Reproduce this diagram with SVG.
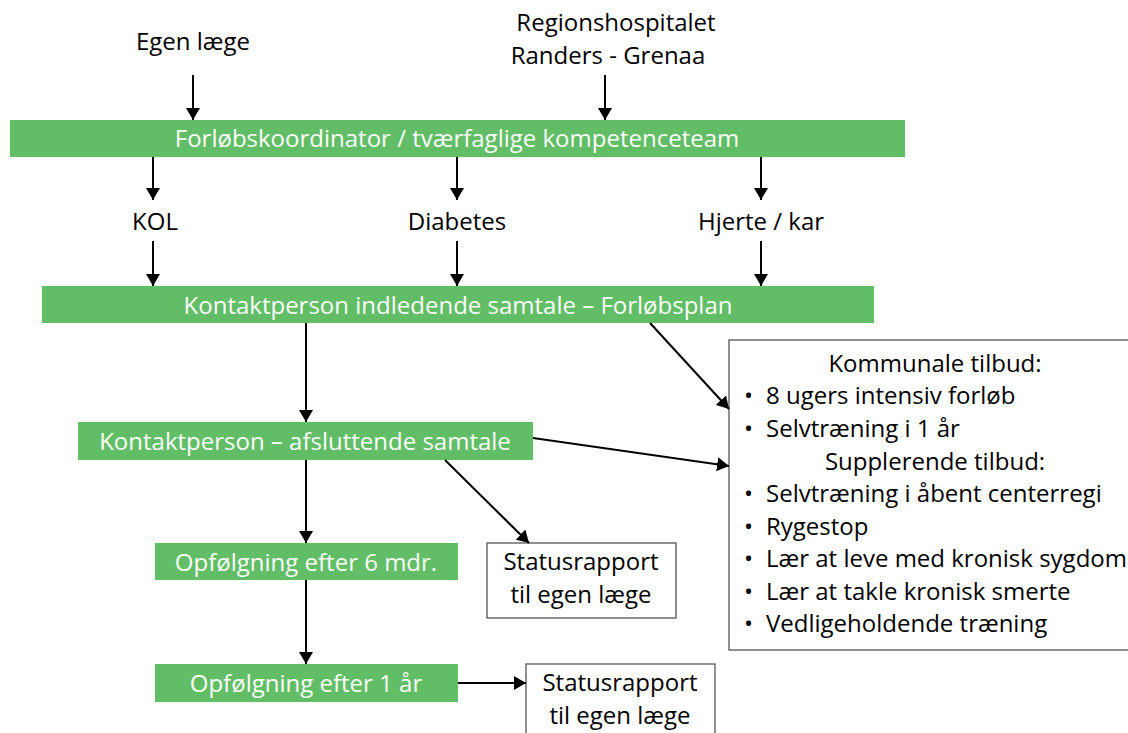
<svg xmlns="http://www.w3.org/2000/svg" width="1128" height="733" viewBox="0 0 1128 733">
<style>
text{font-family:"Open Sans","Liberation Sans",Arial,sans-serif;font-size:24px;fill:#000}
.w{fill:#fff;text-anchor:middle}
.c{text-anchor:middle}
.bar{fill:#62be66}
.box{fill:#fff;stroke:#555;stroke-width:1.3}
.con line{stroke:#000;stroke-width:2}
</style>
<defs>
<marker id="ah" viewBox="0 0 12 14" refX="12" refY="7" markerWidth="12" markerHeight="14" markerUnits="userSpaceOnUse" orient="auto">
<path d="M0,0 L12,7 L0,14 Z" fill="#000"/>
</marker>
</defs>
<rect width="1128" height="733" fill="#fff"/>
<g id="egen"><text class="c" x="193" y="50">Egen læge</text></g>
<g id="region"><text class="c" x="616" y="31">Regionshospitalet</text><text class="c" x="608" y="64">Randers - Grenaa</text></g>
<g id="koord"><rect class="bar" x="10" y="120" width="895" height="37"/><text class="w" x="457" y="147">Forløbskoordinator / tværfaglige kompetenceteam</text></g>
<g id="kol"><text class="c" x="155" y="230">KOL</text></g>
<g id="diabetes"><text class="c" x="457" y="230">Diabetes</text></g>
<g id="hjerte"><text class="c" x="761" y="230">Hjerte / kar</text></g>
<g id="indledende"><rect class="bar" x="42" y="286" width="832" height="37"/><text class="w" x="458" y="314">Kontaktperson indledende samtale – Forløbsplan</text></g>
<g id="afsluttende"><rect class="bar" x="78" y="422" width="455" height="38"/><text class="w" x="305" y="450">Kontaktperson – afsluttende samtale</text></g>
<g id="mdr6"><rect class="bar" x="155" y="543" width="303" height="37"/><text class="w" x="306" y="571">Opfølgning efter 6 mdr.</text></g>
<g id="aar1"><rect class="bar" x="155" y="664" width="303" height="38"/><text class="w" x="306" y="692">Opfølgning efter 1 år</text></g>
<g id="status1"><rect class="box" x="487" y="543" width="189" height="75"/><text class="c" x="581" y="570">Statusrapport</text><text class="c" x="581" y="603">til egen læge</text></g>
<g id="status2"><rect class="box" x="526" y="664" width="189" height="75"/><text class="c" x="620" y="691">Statusrapport</text><text class="c" x="620" y="724">til egen læge</text></g>
<g id="tilbud"><rect class="box" x="729" y="340" width="404" height="310"/>
<text class="c" x="935" y="372">Kommunale tilbud:</text>
<text x="744" y="404">•</text><text x="766" y="404">8 ugers intensiv forløb</text>
<text x="744" y="437">•</text><text x="766" y="437">Selvtræning i 1 år</text>
<text class="c" x="935" y="470">Supplerende tilbud:</text>
<text x="744" y="502">•</text><text x="766" y="502">Selvtræning i åbent centerregi</text>
<text x="744" y="535">•</text><text x="766" y="535">Rygestop</text>
<text x="744" y="567">•</text><text x="766" y="567">Lær at leve med kronisk sygdom</text>
<text x="744" y="600">•</text><text x="766" y="600">Lær at takle kronisk smerte</text>
<text x="744" y="632">•</text><text x="766" y="632">Vedligeholdende træning</text>
</g>
<g id="connectors" class="con">
<line x1="193" y1="75" x2="193" y2="120" marker-end="url(#ah)"/>
<line x1="605" y1="75" x2="605" y2="120" marker-end="url(#ah)"/>
<line x1="153" y1="157" x2="153" y2="200" marker-end="url(#ah)"/>
<line x1="457" y1="157" x2="457" y2="200" marker-end="url(#ah)"/>
<line x1="761" y1="157" x2="761" y2="200" marker-end="url(#ah)"/>
<line x1="153" y1="241" x2="153" y2="286" marker-end="url(#ah)"/>
<line x1="457" y1="241" x2="457" y2="286" marker-end="url(#ah)"/>
<line x1="761" y1="241" x2="761" y2="286" marker-end="url(#ah)"/>
<line x1="306" y1="323" x2="306" y2="422" marker-end="url(#ah)"/>
<line x1="650" y1="323" x2="729" y2="409" marker-end="url(#ah)"/>
<line x1="533" y1="438" x2="729" y2="466" marker-end="url(#ah)"/>
<line x1="306" y1="460" x2="306" y2="543" marker-end="url(#ah)"/>
<line x1="445" y1="460" x2="529" y2="543" marker-end="url(#ah)"/>
<line x1="306" y1="580" x2="306" y2="664" marker-end="url(#ah)"/>
<line x1="458" y1="683" x2="526" y2="683" marker-end="url(#ah)"/>
</g>
</svg>
